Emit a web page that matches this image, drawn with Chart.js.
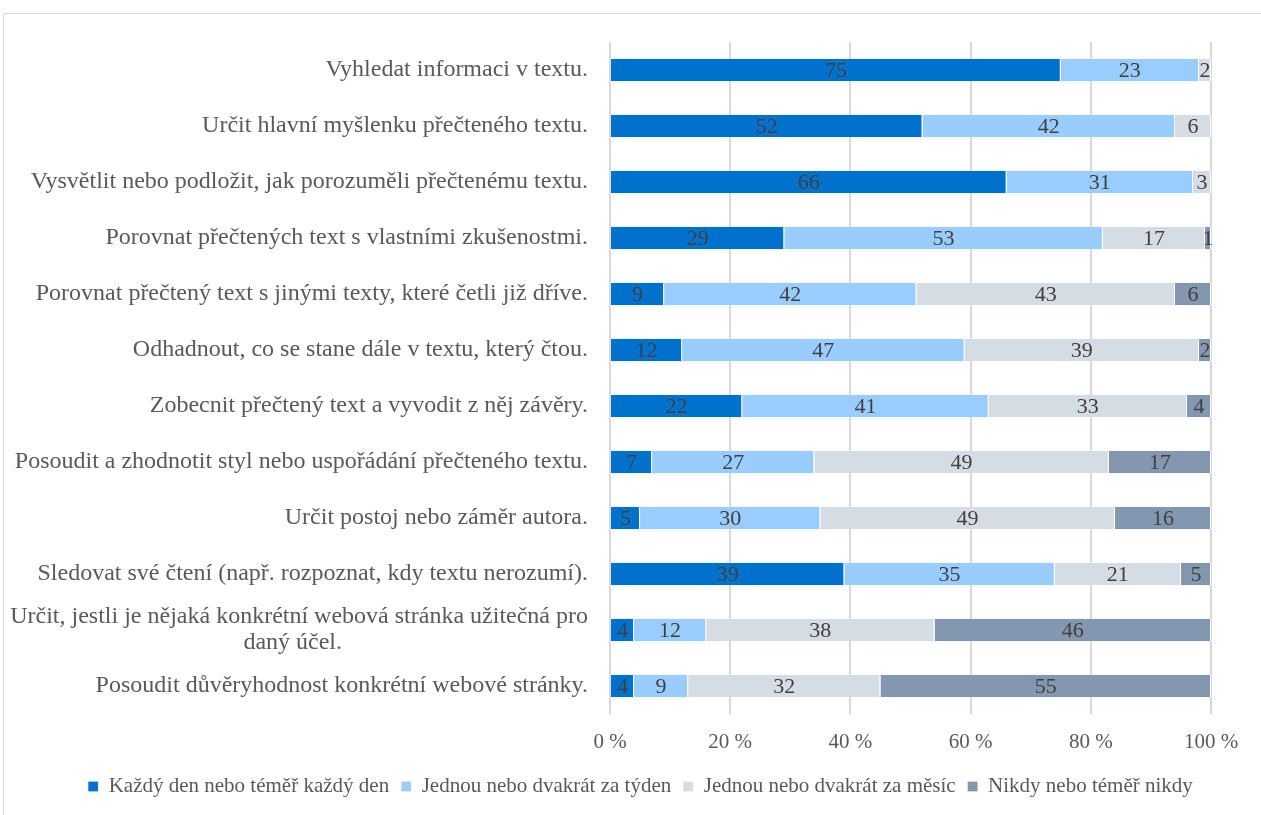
<!DOCTYPE html>
<html>
<head>
<meta charset="utf-8">
<script src="https://cdn.jsdelivr.net/npm/chart.js@4.4.1/dist/chart.umd.min.js"></script>
<style>
  html, body { margin: 0; padding: 0; background: #fff; overflow: hidden; }
  #frame { position: absolute; left: 3px; top: 13px; width: 1400px; height: 900px; border: 1px solid #d9d9d9; box-sizing: border-box; }
  #wrap { position: absolute; left: 0; top: 0; width: 1261px; height: 815px; }
</style>
</head>
<body>
<div id="frame"></div>
<div id="wrap"><canvas id="c" width="1261" height="815"></canvas></div>
<script>
const categories = [
  "Vyhledat informaci v textu.",
  "Určit hlavní myšlenku přečteného textu.",
  "Vysvětlit nebo podložit, jak porozuměli přečtenému textu.",
  "Porovnat přečtených text s vlastními zkušenostmi.",
  "Porovnat přečtený text s jinými texty, které četli již dříve.",
  "Odhadnout, co se stane dále v textu, který čtou.",
  "Zobecnit přečtený text a vyvodit z něj závěry.",
  "Posoudit a zhodnotit styl nebo uspořádání přečteného textu.",
  "Určit postoj nebo záměr autora.",
  "Sledovat své čtení (např. rozpoznat, kdy textu nerozumí).",
  ["Určit, jestli je nějaká konkrétní webová stránka užitečná pro", "daný účel." + "\u00A0".repeat(41)],
  "Posoudit důvěryhodnost konkrétní webové stránky."
];
const seriesNames = [
  "Každý den nebo téměř každý den",
  "Jednou nebo dvakrát za týden",
  "Jednou nebo dvakrát za měsíc",
  "Nikdy nebo téměř nikdy"
];
const daily   = [75, 52, 66, 29,  9, 12, 22,  7,  5, 39,  4,  4];
const weekly  = [23, 42, 31, 53, 42, 47, 41, 27, 30, 35, 12,  9];
const monthly = [ 2,  6,  3, 17, 43, 39, 33, 49, 49, 21, 38, 32];
const never   = [ 0,  0,  0,  1,  6,  2,  4, 17, 16,  5, 46, 55];
const xTicks = [0, 20, 40, 60, 80, 100];
const colors = ["#0072CE", "#99CCFF", "#D6DCE4", "#8497B0"];

const FONT = "'Liberation Serif', 'Times New Roman', serif";

const valueLabels = {
  id: 'valueLabels',
  afterDatasetsDraw(chart) {
    const ctx = chart.ctx;
    ctx.save();
    ctx.font = "22px " + FONT;
    ctx.fillStyle = "#404040";
    ctx.textAlign = "center";
    ctx.textBaseline = "middle";
    chart.data.datasets.forEach((ds, di) => {
      const meta = chart.getDatasetMeta(di);
      meta.data.forEach((bar, i) => {
        const v = ds.data[i];
        if (!v) return;
        const x = (bar.x + bar.base) / 2;
        ctx.fillText(String(v), x, bar.y + 1);
      });
    });
    ctx.restore();
  }
};

const legendShift = {
  id: 'legendShift',
  afterLayout(chart) {
    if (chart.legend) { chart.legend.left += 35; chart.legend.right += 35; }
  }
};

new Chart(document.getElementById('c'), {
  type: 'bar',
  data: {
    labels: categories,
    datasets: [
      { label: seriesNames[0], data: daily,   backgroundColor: colors[0] },
      { label: seriesNames[1], data: weekly,  backgroundColor: colors[1] },
      { label: seriesNames[2], data: monthly, backgroundColor: colors[2] },
      { label: seriesNames[3], data: never,   backgroundColor: colors[3] }
    ].map(d => Object.assign(d, { borderColor: '#ffffff', borderWidth: {left: 0, right: 1, top: 0, bottom: 0}, barPercentage: 0.8, categoryPercentage: 0.5, borderSkipped: false }))
  },
  options: {
    indexAxis: 'y',
    responsive: false,
    animation: false,
    layout: { padding: { top: 42, right: 50, bottom: 8, left: 0 } },
    scales: {
      x: {
        stacked: true,
        min: 0, max: 100,
        afterBuildTicks(scale) { scale.ticks = xTicks.map(v => ({ value: v })); },
        ticks: { callback: v => v + " %", color: "#595959", font: { family: FONT, size: 21 }, padding: 16, maxRotation: 0 },
        grid: { color: "#d9d9d9", lineWidth: 2, drawTicks: false },
        border: { display: false },
        afterFit(scale) { scale.height = 50; }
      },
      y: {
        stacked: true,
        ticks: { color: "#595959", font: { family: FONT, size: 24, lineHeight: 1.1 }, padding: 22, autoSkip: false },
        grid: { display: false, drawTicks: false },
        border: { display: false },
        afterFit(scale) { scale.width = 610; }
      }
    },
    plugins: {
      legend: {
        position: 'bottom',
        labels: { color: "#595959", font: { family: FONT, size: 21 }, boxWidth: 10, boxHeight: 10, padding: 12 }
      },
      tooltip: { enabled: false }
    }
  },
  plugins: [valueLabels, legendShift]
});
</script>
</body>
</html>
